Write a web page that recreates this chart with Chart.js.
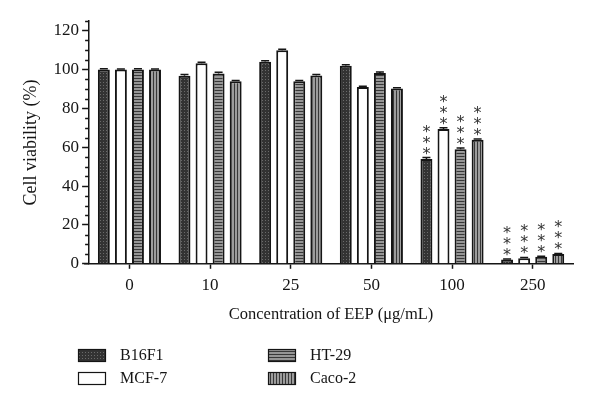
<!DOCTYPE html>
<html>
<head>
<meta charset="utf-8">
<script src="https://cdn.jsdelivr.net/npm/chart.js@4/dist/chart.umd.min.js"></script>
<style>
  html, body { margin: 0; padding: 0; background: #fff; }
  #wrap { width: 600px; height: 411px; }
</style>
</head>
<body>
<div id="wrap"><canvas id="chart" width="600" height="411"></canvas></div>
<script>
// concentration groups (x axis)
const concentrations = ['0', '10', '25', '50', '100', '250'];

// cell viability (%) per cell line
const b16f1 = [100, 96.8, 104, 102, 54, 2.2];
const mcf7 = [100, 103.2, 110, 91, 69.4, 2.9];
const ht29 = [100, 98, 94, 98.2, 59, 3.6];
const caco2 = [100, 94, 96.9, 90.2, 63.8, 5];

// small SD caps on top of the bars
const b16f1Err = [0.4, 0.6, 0.5, 0.5, 0.7, 0.3];
const mcf7Err = [0.3, 0.5, 0.4, 0.4, 0.6, 0.3];
const ht29Err = [0.4, 0.6, 0.4, 0.6, 0.6, 0.3];
const caco2Err = [0.3, 0.4, 0.5, 0.4, 0.5, 0.3];

// groups marked with *** (p < 0.001)
const significant = [false, false, false, false, true, true];

const yTicks = [0, 20, 40, 60, 80, 100, 120];

const ink = '#151515';
const serif = "'Liberation Serif', 'DejaVu Serif', serif";

// little fill textures like the print version
function makePattern(kind) {
    const c = document.createElement('canvas');
    const g = c.getContext('2d');
    if (kind === 'dots') {
        c.width = 3; c.height = 3;
        g.fillStyle = '#333';
        g.fillRect(0, 0, 3, 3);
        g.fillStyle = '#6a6a6a';
        g.fillRect(1, 1, 1, 1);
    } else if (kind === 'hlines') {
        c.width = 4; c.height = 3;
        g.fillStyle = '#959595';
        g.fillRect(0, 0, 4, 3);
        g.fillStyle = '#383838';
        g.fillRect(0, 0, 4, 1);
    } else if (kind === 'vlines') {
        c.width = 3; c.height = 4;
        g.fillStyle = '#9c9c9c';
        g.fillRect(0, 0, 3, 4);
        g.fillStyle = '#383838';
        g.fillRect(0, 0, 1, 4);
    } else {
        c.width = 2; c.height = 2;
        g.fillStyle = '#fff';
        g.fillRect(0, 0, 2, 2);
    }
    return g.createPattern(c, 'repeat');
}

const canvas = document.getElementById('chart');
const ctx = canvas.getContext('2d');

// error caps + asterisks
const markPlugin = {
    id: 'marks',
    afterDatasetsDraw(chart) {
        const c = chart.ctx;
        const yScale = chart.scales.y;
        chart.data.datasets.forEach((ds, i) => {
            const meta = chart.getDatasetMeta(i);
            meta.data.forEach((bar, j) => {
                const top = yScale.getPixelForValue(ds.data[j] + ds.err[j]);
                c.save();
                c.strokeStyle = ink;
                c.lineWidth = 1.5;
                c.beginPath();
                c.moveTo(bar.x, bar.y);
                c.lineTo(bar.x, top);
                c.moveTo(bar.x - 4, top);
                c.lineTo(bar.x + 4, top);
                c.stroke();
                if (significant[j]) {
                    c.fillStyle = '#333';
                    c.font = "16px 'DejaVu Sans', sans-serif";
                    c.textAlign = 'center';
                    c.textBaseline = 'middle';
                    for (let k = 0; k < 3; k++) {
                        c.fillText('*', bar.x, bar.y - 4 - k * 11);
                    }
                }
                c.restore();
            });
        });
    }
};

// minor ticks on the y axis every 5, x axis stub left of the y axis
const minorTicks = {
    id: 'minorTicks',
    afterDraw(chart) {
        const y = chart.scales.y;
        const area = chart.chartArea;
        const c = chart.ctx;
        c.save();
        c.strokeStyle = ink;
        c.lineWidth = 1.5;
        c.beginPath();
        for (let v = 5; v <= 125; v += 5) {
            if (v % 20 === 0) continue;
            const py = Math.round(y.getPixelForValue(v)) + 0.5;
            c.moveTo(y.right - 4, py);
            c.lineTo(y.right, py);
        }
        c.moveTo(area.left - 5, area.bottom);
        c.lineTo(area.left, area.bottom);
        c.stroke();
        c.restore();
    }
};

// two-column legend at the bottom
const gridLegend = {
    id: 'gridLegend',
    afterDraw(chart) {
        const c = chart.ctx;
        const spots = [
            { x: 78, y: 349 }, { x: 78, y: 372 },
            { x: 268, y: 349 }, { x: 268, y: 372 }
        ];
        chart.data.datasets.forEach((ds, i) => {
            const s = spots[i];
            c.save();
            c.fillStyle = ds.backgroundColor;
            c.fillRect(s.x, s.y, 28, 13);
            c.strokeStyle = ink;
            c.lineWidth = 1.2;
            c.strokeRect(s.x + 0.5, s.y + 0.5, 27, 12);
            c.fillStyle = ink;
            c.font = '16px ' + serif;
            c.textBaseline = 'middle';
            c.fillText(ds.label, s.x + 42, s.y + 7);
            c.restore();
        });
    }
};

new Chart(ctx, {
    type: 'bar',
    data: {
        labels: concentrations,
        datasets: [
            { label: 'B16F1', data: b16f1, err: b16f1Err, backgroundColor: makePattern('dots') },
            { label: 'MCF-7', data: mcf7, err: mcf7Err, backgroundColor: makePattern('white') },
            { label: 'HT-29', data: ht29, err: ht29Err, backgroundColor: makePattern('hlines') },
            { label: 'Caco-2', data: caco2, err: caco2Err, backgroundColor: makePattern('vlines') }
        ]
    },
    options: {
        responsive: false,
        animation: false,
        layout: { padding: { left: 20, right: 27, top: 21, bottom: 86 } },
        datasets: {
            bar: {
                borderColor: ink,
                borderWidth: 2,
                categoryPercentage: 0.846,
                barPercentage: 0.7
            }
        },
        plugins: {
            legend: { display: false },
            tooltip: { enabled: false }
        },
        scales: {
            x: {
                grid: { display: true, drawOnChartArea: false, offset: false, tickLength: 5, tickColor: ink, tickWidth: 1.5 },
                border: { color: ink, width: 1.5 },
                ticks: { color: ink, font: { family: serif, size: 17 }, padding: 7 },
                title: {
                    display: true,
                    text: 'Concentration of EEP (μg/mL)',
                    color: ink,
                    font: { family: serif, size: 16.5 },
                    padding: { top: 2, bottom: 0 }
                }
            },
            y: {
                min: 0,
                max: 125,
                afterBuildTicks(scale) {
                    scale.ticks = yTicks.map(v => ({ value: v }));
                },
                grid: { display: true, drawOnChartArea: false, tickLength: 7, tickColor: ink, tickWidth: 1.5 },
                border: { color: ink, width: 1.5 },
                ticks: { color: ink, font: { family: serif, size: 17 }, padding: 3 },
                title: {
                    display: true,
                    text: 'Cell viability (%)',
                    color: ink,
                    font: { family: serif, size: 18 },
                    padding: { top: 0, bottom: 9 }
                }
            }
        }
    },
    plugins: [markPlugin, minorTicks, gridLegend]
});
</script>
</body>
</html>
